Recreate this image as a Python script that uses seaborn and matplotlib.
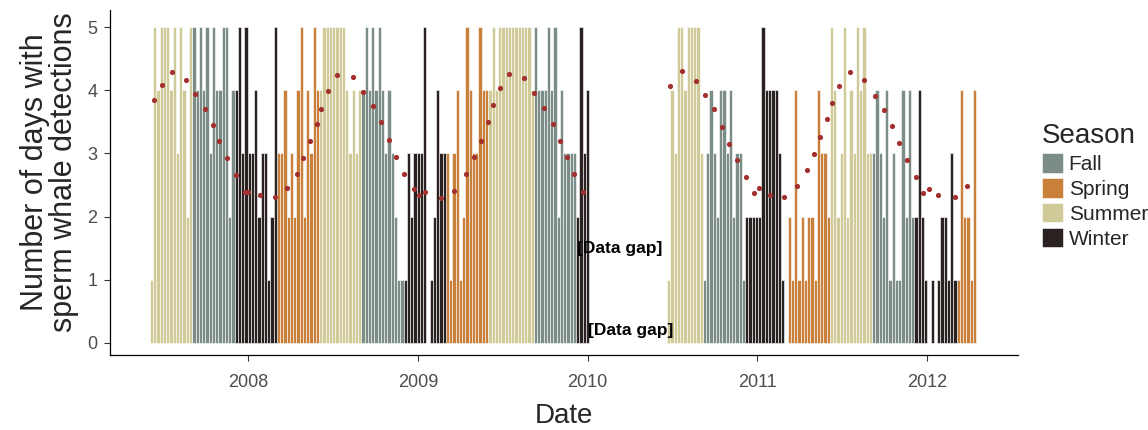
import matplotlib
matplotlib.use("Agg")
import numpy as np
import pandas as pd
import seaborn as sns
import matplotlib.pyplot as plt
import matplotlib.dates as mdates

# ---------------- data ----------------
seg1_start = "2007-06-04"   # weekly bins, first recording period
seg2_start = "2010-06-21"   # weekly bins, second recording period (after data gap)

# number of days per week with sperm whale detections
seg1_days = [
    1, 5, 4, 5, 5, 5, 4, 5, 3, 5, 4, 2, 5,        # summer 2007
    5, 4, 5, 4, 5, 3, 5, 4, 4, 5, 5, 2, 4,        # fall 2007
    4, 5, 3, 5, 3, 3, 4, 2, 3, 3, 1, 2, 5,        # winter 2007-08
    3, 3, 4, 2, 3, 2, 4, 5, 2, 4, 3, 5, 4,        # spring 2008
    4, 5, 5, 5, 5, 5, 5, 5, 4, 3, 4, 3, 4,        # summer 2008
    4, 5, 4, 5, 4, 5, 4, 3, 4, 3, 2, 1, 1,        # fall 2008
    1, 3, 2, 3, 3, 3, 5, 0, 1, 2, 4, 3, 3,        # winter 2008-09
    3, 1, 3, 4, 1, 2, 5, 4, 3, 3, 5, 4, 4,        # spring 2009
    4, 5, 4, 5, 5, 5, 5, 5, 5, 5, 5, 5, 5, 4,     # summer 2009
    5, 4, 4, 4, 5, 4, 5, 2, 4, 3, 3, 3, 3,        # fall 2009
    2, 5, 3, 4,                                   # winter 2009
]
seg2_days = [
    1, 4, 3, 5, 5, 4, 5, 5, 5, 5, 3,              # summer 2010
    1, 3, 4, 3, 2, 4, 4, 3, 4, 2, 3, 3, 1,        # fall 2010
    2, 2, 2, 2, 2, 5, 4, 4, 4, 4, 3, 1, 0,        # winter 2010-11
    2, 1, 4, 1, 2, 1, 2, 2, 1, 4, 3, 3, 2,        # spring 2011
    5, 4, 2, 3, 5, 2, 4, 3, 5, 4, 5, 3, 3,        # summer 2011
    3, 4, 3, 2, 4, 1, 3, 1, 1, 4, 2, 4, 2,        # fall 2011
    2, 4, 2, 1, 0, 1, 0, 1, 2, 2, 1, 3, 1,        # winter 2011-12
    1, 4, 2, 2, 1, 4,                             # spring 2012
]

# modelled seasonal trend (decimal year, predicted days/week)
trend_year = [
    2007.446, 2007.492, 2007.551, 2007.633, 2007.688, 2007.747, 2007.792, 2007.829,
    2007.878, 2007.929, 2007.982, 2008.002, 2008.071, 2008.159, 2008.232,
    2008.287, 2008.326, 2008.365, 2008.405, 2008.430, 2008.473, 2008.523, 2008.617,
    2008.676, 2008.735, 2008.784, 2008.827, 2008.872, 2008.919, 2008.974, 2009.003, 2009.043,
    2009.135, 2009.214, 2009.282, 2009.327, 2009.371, 2009.410, 2009.439, 2009.480,
    2009.538, 2009.622, 2009.685, 2009.744, 2009.793, 2009.834, 2009.877, 2009.922, 2009.972,
    2010.486, 2010.558, 2010.637, 2010.692, 2010.747, 2010.794, 2010.835, 2010.882,
    2010.932, 2010.983, 2011.010, 2011.075, 2011.159, 2011.232, 2011.291, 2011.336, 2011.370,
    2011.409, 2011.442, 2011.483, 2011.546, 2011.631, 2011.694, 2011.747, 2011.792,
    2011.837, 2011.884, 2011.933, 2011.978, 2012.012, 2012.067, 2012.165, 2012.237,
]
trend_days = [
    3.84, 4.08, 4.29, 4.17, 3.94, 3.71, 3.45, 3.19, 2.92, 2.66, 2.39, 2.39, 2.34, 2.31, 2.45,
    2.67, 2.92, 3.19, 3.46, 3.71, 3.99, 4.24, 4.21, 3.98, 3.75, 3.49, 3.22, 2.95, 2.68, 2.43, 2.34, 2.39,
    2.30, 2.41, 2.67, 2.94, 3.20, 3.49, 3.77, 4.04, 4.26, 4.20, 3.95, 3.72, 3.47, 3.20, 2.94, 2.67, 2.39,
    4.07, 4.30, 4.15, 3.92, 3.70, 3.42, 3.15, 2.90, 2.63, 2.38, 2.46, 2.34, 2.31, 2.48, 2.73, 2.99, 3.26,
    3.54, 3.80, 4.07, 4.29, 4.16, 3.91, 3.69, 3.43, 3.16, 2.90, 2.62, 2.38, 2.44, 2.34, 2.31, 2.48,
]

season_order = ["Fall", "Spring", "Summer", "Winter"]
season_colors = ["#7B8D86", "#C8803A", "#CFCA97", "#2A2220"]
gap_label = "[Data gap]"
year_ticks = [2008, 2009, 2010, 2011, 2012]

# ---------------- build table ----------------
def season_of(month):
    if month in (12, 1, 2):
        return "Winter"
    if month in (3, 4, 5):
        return "Spring"
    if month in (6, 7, 8):
        return "Summer"
    return "Fall"

weeks1 = pd.date_range(seg1_start, periods=len(seg1_days), freq="7D")
weeks2 = pd.date_range(seg2_start, periods=len(seg2_days), freq="7D")
weeks = weeks1.append(weeks2)
df = pd.DataFrame({
    "week": weeks,
    "days": seg1_days + seg2_days,
})
df["Season"] = [season_of(d.month) for d in df["week"]]
df["x"] = mdates.date2num(df["week"] + pd.Timedelta(days=3.5))


def decyear_to_num(y):
    yr = int(np.floor(y))
    s = pd.Timestamp(yr, 1, 1)
    e = pd.Timestamp(yr + 1, 1, 1)
    return mdates.date2num(s + (e - s) * (y - yr))


trend = pd.DataFrame({"x": [decyear_to_num(v) for v in trend_year], "days": trend_days})

# ---------------- plot ----------------
sns.set_style("ticks")
plt.rcParams["font.family"] = ["Liberation Sans", "DejaVu Sans"]

fig = plt.figure(figsize=(11.48, 4.30), dpi=100)
ax = fig.add_axes([110 / 1148, 1 - 355 / 430, 908 / 1148, 345 / 430])

sns.barplot(
    data=df, x="x", y="days", hue="Season", hue_order=season_order,
    palette=season_colors, native_scale=True, dodge=False, width=1.0,
    errorbar=None, edgecolor="white", linewidth=0.4, saturation=1, ax=ax,
)

sns.scatterplot(
    data=trend, x="x", y="days", color="#A3302E", s=14, linewidth=0,
    ax=ax, zorder=5, legend=False,
)

ax.text(decyear_to_num(2009.938), 1.5, gap_label, fontweight="bold",
        fontsize=12.5, ha="left", va="center", color="black", zorder=6)
ax.text(decyear_to_num(2010.003), 0.2, gap_label, fontweight="bold",
        fontsize=12.5, ha="left", va="center", color="black", zorder=6)

ax.set_xlim(mdates.date2num(pd.Timestamp("2007-03-10")),
            mdates.date2num(pd.Timestamp("2012-07-15")))
ax.set_ylim(-0.19, 5.27)
ax.set_xticks([mdates.date2num(pd.Timestamp(y, 1, 1)) for y in year_ticks])
ax.set_xticklabels([str(y) for y in year_ticks])
ax.set_yticks([0, 1, 2, 3, 4, 5])
ax.tick_params(axis="both", labelsize=13, labelcolor="#4D4D4D", color="#333333",
               length=4, width=0.8)
ax.tick_params(axis="x", pad=10)
ax.tick_params(axis="y", pad=5)

for side in ("top", "right"):
    ax.spines[side].set_visible(False)
for side in ("left", "bottom"):
    ax.spines[side].set_color("black")
    ax.spines[side].set_linewidth(0.9)

ax.set_xlabel("Date", fontsize=20)
ax.set_ylabel("Number of days with\nsperm whale detections", fontsize=22, linespacing=0.95)
ax.xaxis.set_label_coords(0.5, -0.14)
ax.yaxis.set_label_coords(-0.034, 0.53)

sns.move_legend(
    ax, "center left", bbox_to_anchor=(1.026, 0.49), frameon=False,
    title="Season", fontsize=15, title_fontsize=20,
    handlelength=1.05, handleheight=1.05, labelspacing=0.2,
    handletextpad=0.25, borderpad=0, borderaxespad=0, alignment="left",
)

fig.savefig("out.png", dpi=100)
